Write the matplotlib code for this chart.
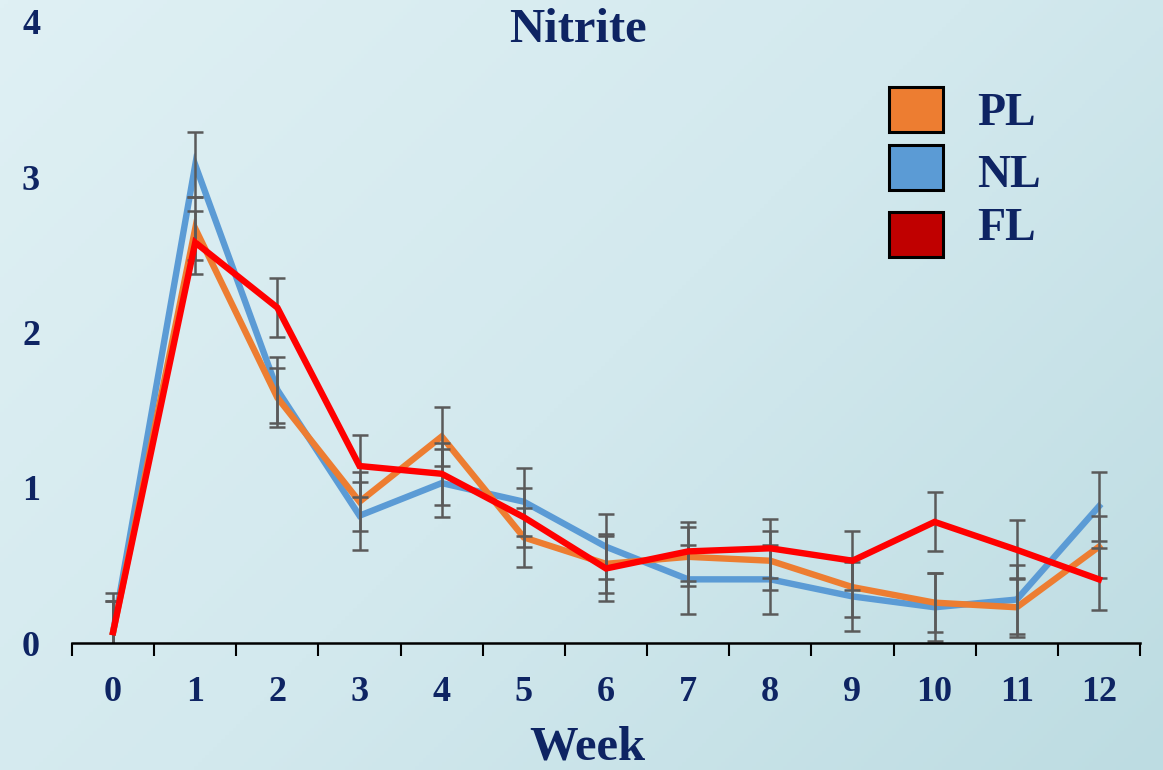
import numpy as np
import matplotlib
matplotlib.use("Agg")
import matplotlib.pyplot as plt
from matplotlib.patches import Rectangle
from matplotlib.colors import LinearSegmentedColormap

weeks = [str(w) for w in range(13)]
pl = [0.07, 2.67, 1.58, 0.91, 1.33, 0.68, 0.51, 0.555, 0.53, 0.36, 0.26, 0.23, 0.62]
nl = [0.07, 3.08, 1.63, 0.82, 1.03, 0.91, 0.62, 0.41, 0.41, 0.30, 0.23, 0.28, 0.88]
fl = [0.07, 2.58, 2.16, 1.14, 1.09, 0.81, 0.48, 0.59, 0.61, 0.53, 0.78, 0.60, 0.41]
pl_err = [0.20, 0.20, 0.19, 0.19, 0.19, 0.19, 0.19, 0.19, 0.19, 0.19, 0.19, 0.19, 0.20]
nl_err = [0.25, 0.21, 0.21, 0.22, 0.22, 0.22, 0.21, 0.22, 0.22, 0.22, 0.22, 0.22, 0.22]
fl_err = [0.20, 0.20, 0.19, 0.20, 0.20, 0.19, 0.21, 0.19, 0.19, 0.19, 0.19, 0.19, 0.20]
yticks = [0, 1, 2, 3, 4]
series_names = ["PL", "NL", "FL"]

NAVY = "#0E2463"
C_PL = "#ED7D31"
C_NL = "#5B9BD5"
C_FL = "#FF0000"
C_FL_PATCH = "#C00000"
C_ERR = "#5A5A5A"
FONT = "Liberation Serif"

fig = plt.figure(figsize=(11.63, 7.70), dpi=100)

# background gradient
bg = fig.add_axes([0, 0, 1, 1], zorder=-10)
cmap = LinearSegmentedColormap.from_list("bg", ["#DFF0F4", "#D3E9EE", "#BDDCE2"])
yy, xx = np.mgrid[0:1:200j, 0:1:300j]
grad = (xx * 0.6 + yy * 0.4)
bg.imshow(grad, cmap=cmap, aspect="auto", extent=[0, 1, 0, 1], origin="upper")
bg.axis("off")

ax = fig.add_axes([72 / 1163, 127 / 770, 1068 / 1163, 621 / 770])
ax.patch.set_alpha(0)
x = np.arange(len(weeks))

ax.plot(x, nl, color=C_NL, lw=4.6, solid_joinstyle="miter", zorder=3)
ax.plot(x, pl, color=C_PL, lw=4.6, solid_joinstyle="miter", zorder=3.5)
for vals, errs in [(pl, pl_err), (nl, nl_err), (fl, fl_err)]:
    ax.errorbar(x, vals, yerr=errs, fmt="none", ecolor=C_ERR, elinewidth=1.8,
                capsize=5.5, capthick=1.8, zorder=4)
ax.plot(x, fl, color=C_FL, lw=4.6, solid_joinstyle="miter", zorder=5)

ax.set_xlim(-0.5, len(weeks) - 0.5)
ax.set_ylim(0, 4)
ax.set_xticks(x)
ax.set_xticklabels(weeks)
ax.set_xticks(np.arange(-0.5, len(weeks), 1.0), minor=True)
ax.set_yticks(yticks)
ax.set_yticklabels([str(v) for v in yticks])
ax.tick_params(axis="x", which="major", length=0, pad=24)
ax.tick_params(axis="x", which="minor", length=9, width=1.5, color="black", direction="out")
ax.tick_params(axis="y", length=0, pad=23)
for lab in ax.get_xticklabels() + ax.get_yticklabels():
    lab.set_fontfamily(FONT)
    lab.set_fontweight("bold")
    lab.set_fontsize(26)
    lab.set_color(NAVY)
for s in ["top", "right", "left"]:
    ax.spines[s].set_visible(False)
ax.spines["bottom"].set_linewidth(1.8)
ax.spines["bottom"].set_color("black")
ax.spines["bottom"].set_zorder(6)

fig.text(578 / 1163, 1 - 30 / 770, "Nitrite", ha="center", va="center",
         fontfamily=FONT, fontweight="bold", fontsize=35, color=NAVY)
fig.text(587 / 1163, 1 - 748 / 770, "Week", ha="center", va="center",
         fontfamily=FONT, fontweight="bold", fontsize=35, color=NAVY)

# legend (manual)
leg_items = [(series_names[0], C_PL, 87, 114), (series_names[1], C_NL, 145, 176),
             (series_names[2], C_FL_PATCH, 212, 229)]
for name, col, ytop, ytxt in leg_items:
    fig.patches.append(Rectangle((889 / 1163, 1 - (ytop + 45) / 770), 54 / 1163, 45 / 770,
                                 transform=fig.transFigure, facecolor=col,
                                 edgecolor="black", linewidth=2.2, zorder=10))
    fig.text(977 / 1163, 1 - ytxt / 770, name, ha="left", va="center",
             fontfamily=FONT, fontweight="bold", fontsize=33, color=NAVY)

fig.savefig("out.png", dpi=100)
